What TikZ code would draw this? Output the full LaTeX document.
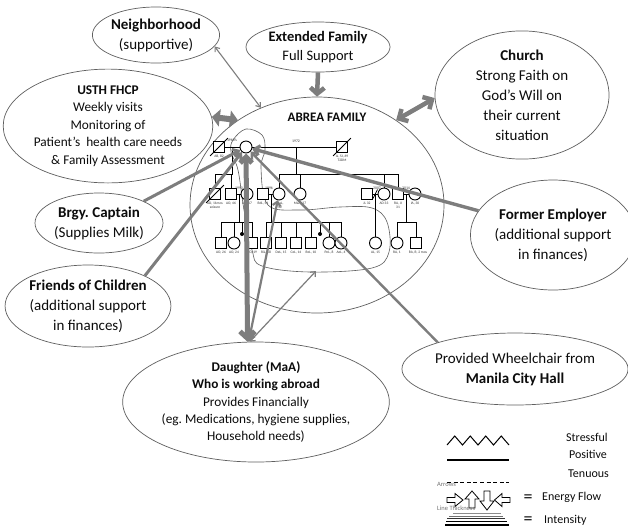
\documentclass[tikz,border=0pt]{standalone}
\usepackage{fontspec}
\setmainfont{Carlito}
\usetikzlibrary{shapes.geometric,arrows.meta}
\definecolor{conn}{RGB}{125,125,125}
\definecolor{edge}{RGB}{95,95,95}
\definecolor{txt}{RGB}{12,12,12}
\frenchspacing
\begin{document}
\begin{tikzpicture}[x=1pt,y=-1pt,
  bub/.style={ellipse,draw=edge,line width=0.7pt,inner sep=0pt,align=center,text=txt},
  fA/.style={font=\fontsize{15}{20}\selectfont},
  fB/.style={font=\fontsize{13.3}{17.4}\selectfont},
  fC/.style={font=\fontsize{14.5}{19}\selectfont},
  gsq/.style={rectangle,draw=black,line width=0.9pt,minimum size=11pt,inner sep=0pt,fill=white},
  gci/.style={circle,draw=black,line width=0.9pt,minimum size=12pt,inner sep=0pt,fill=white},
  gdot/.style={circle,fill=black,minimum size=4pt,inner sep=0pt},
  gl/.style={line width=0.8pt,draw=black},
  glab/.style={font=\fontsize{3.6}{4.2}\selectfont,align=center,inner sep=0pt,text=black!80},
  gyr/.style={font=\fontsize{3.8}{4.2}\selectfont,inner sep=0pt,text=black!80},
  cn/.style={draw=conn,line cap=butt},
  lgt/.style={font=\fontsize{12}{13}\selectfont,inner sep=0pt,anchor=west,text=txt},
  lgs/.style={font=\fontsize{6.5}{7}\selectfont,inner sep=0pt,anchor=west,text=black!55},
  barr/.style={draw=black,line width=0.8pt,fill=white,line join=miter}
]
\useasboundingbox (0,0) rectangle (628,531);
\fill[white] (0,0) rectangle (628,531);

% ---------- bubbles ----------
\node[bub,fA,minimum width=124pt,minimum height=56pt] (neigh) at (156,35) {\textbf{Neighborhood}\\(supportive)};
\node[bub,fC,minimum width=144pt,minimum height=50pt] (ext) at (318,47) {\textbf{Extended Family}\\Full Support};
\node[bub,fB,minimum width=166pt,minimum height=108pt] (usth) at (108,126) {\textbf{USTH FHCP}\\Weekly visits\\Monitoring of\\Patient’s\ \ health care needs\\\& Family Assessment};
\node[bub,fA,minimum width=174pt,minimum height=117pt] (church) at (522,95) {\textbf{Church}\\Strong Faith on\\God’s Will on\\their current\\situation};
\node[bub,fA,minimum width=128pt,minimum height=60pt] (brgy) at (99,223) {\textbf{Brgy. Captain}\\(Supplies Milk)};
\node[bub,fA,minimum width=154pt,minimum height=82pt] (friends) at (88,306) {\textbf{Friends of Children}\\(additional support\\in finances)};
\node[bub,fA,minimum width=140pt,minimum height=110pt] (employer) at (553,235) {\textbf{Former Employer}\\(additional support\\in finances)};
\node[bub,fB,minimum width=224pt,minimum height=120pt] (daughter) at (256,402) {\textbf{Daughter (MaA)}\\\textbf{Who is working abroad}\\Provides Financially\\(eg. Medications, hygiene supplies,\\Household needs)};
\node[bub,fA,minimum width=214pt,minimum height=72pt] (wheel) at (515,369) {Provided Wheelchair from\\\textbf{Manila City Hall}};
\node[ellipse,draw=edge,line width=0.7pt,minimum width=254pt,minimum height=216pt,inner sep=0pt] (family) at (317,205) {};
\node[font=\fontsize{13}{15}\selectfont\bfseries,text=txt,inner sep=0pt] (title) at (327,117) {ABREA FAMILY};

% ---------- household boundary ----------
\draw[draw=edge,line width=0.6pt] plot[smooth cycle,tension=0.6] coordinates {
 (233,140) (246,129) (262,135) (265,150) (261,168) (268,205) (300,210) (340,207)
 (372,208) (387,222) (389,252) (372,268) (310,272) (262,266) (252,250) (244,210)
 (238,170) (231,152)};
\coordinate (hh) at (316,271);

% ---------- genogram lines ----------
\draw[gl] (219,147) -- (246,147);
\draw[gl] (246,147) -- (342,147);
\draw[gl] (232.5,147) -- (232.5,174);
\draw[gl] (215,174) -- (232.5,174);
\draw[gl] (215,174) -- (215,194);
\draw[gl] (231,174) -- (231,194);
\draw[gl] (296,147) -- (296,174);
\draw[gl] (279,174) -- (398,174);
\foreach \x in {279,300,384,398} \draw[gl] (\x,174) -- (\x,194);
% gen 2 marriages
\draw[gl] (231,194) -- (247,194);
\draw[gl] (263,194) -- (279,194);
\draw[gl] (367,194) -- (384,194);
\draw[gl] (398,194) -- (415,194);
\draw[gl] (373,198.5) -- (377.5,189.5);
% gen 3 lines
\draw[gl] (239,194) -- (239,222);
\draw[gl] (221,222) -- (252,222);
\foreach \x in {221,234,252} \draw[gl] (\x,222) -- (\x,243);
\draw[gl] (242,222) -- (242,234);
\draw[gl] (271,194) -- (271,222);
\draw[gl] (266,222) -- (341,222);
\foreach \x in {266,281,296,311,329,341} \draw[gl] (\x,222) -- (\x,243);
\draw[gl] (320,222) -- (320,234);
\draw[gl] (375.5,194) -- (375.5,243);
\draw[gl] (406,194) -- (406,222);
\draw[gl] (397,222) -- (416,222);
\foreach \x in {397,416} \draw[gl] (\x,222) -- (\x,243);

% ---------- genogram symbols ----------
\node[gsq] (g1f) at (219,147) {};
\node[gci] (mother) at (246,147) {};
\node[gsq] (g1h) at (342,147) {};
\node[gsq] (g2a) at (215,194) {};
\node[gsq] (g2b) at (231,194) {};
\node[gci] (g2c) at (247,194) {};
\node[gsq] (g2d) at (263,194) {};
\node[gci] (g2e) at (279,194) {};
\node[gci] (g2f) at (300,194) {};
\node[gsq] (g2g) at (367,194) {};
\node[gci] (g2h) at (384,194) {};
\node[gsq] (g2i) at (398,194) {};
\node[gci] (g2j) at (415,194) {};
\node[gsq] (g3a) at (221,243) {};
\node[gci] (g3b) at (234,243) {};
\node[gdot] (d1) at (242,234) {};
\node[gsq] (g3c) at (252,243) {};
\node[gsq] (g3d) at (266,243) {};
\node[gsq] (g3e) at (281,243) {};
\node[gsq] (g3f) at (296,243) {};
\node[gsq] (g3g) at (311,243) {};
\node[gdot] (d2) at (320,234) {};
\node[gci] (g3h) at (329,243) {};
\node[gci] (g3i) at (341,243) {};
\node[gci] (g3j) at (375.5,243) {};
\node[gci] (g3k) at (397,243) {};
\node[gsq] (g3l) at (416,243) {};
\foreach \n in {g1f,g1h,g2a}
  \draw[gl] ([shift={(-3,3)}]\n.south west) -- ([shift={(3,-3)}]\n.north east);

% ---------- genogram labels ----------
\node[gyr] (y1) at (232,140) {1960's};
\node[gyr] (y2) at (296,141) {1972};
\node[gyr] (y3) at (239,188) {1993};
\node[gyr] (y4) at (269,188) {1996};
\node[gyr] (y5) at (377,188) {2007};
\node[gyr] (y6) at (406,188) {2014};
\node[glab,anchor=north] (l0) at (219,155) {AB, 82};
\node[glab,anchor=north] (l1) at (342,155) {JL, SI, 69\\T2DM};
\node[glab,anchor=north] (l2) at (215,202) {AD, 11mos\\seizure};
\node[glab,anchor=north] (l3) at (231,202) {AO, 46};
\node[glab,anchor=north] (l4) at (247,202) {AO, 47};
\node[glab,anchor=north] (l5) at (263,202) {RdL, 51};
\node[glab,anchor=north] (l6) at (280,202) {MaL,\\42};
\node[glab,anchor=north] (l7) at (300,202) {MaA, 37};
\node[glab,anchor=north] (l8) at (367,202) {JL 32};
\node[glab,anchor=north] (l9) at (384,202) {AD 33};
\node[glab,anchor=north] (l10) at (398,202) {RA, JI\\31};
\node[glab,anchor=north] (l11) at (415,202) {IA, 30};
\node[glab,anchor=north] (m1) at (221,251) {AO, 26};
\node[glab,anchor=north] (m2) at (234,251) {AO, 24};
\node[glab,anchor=north] (m3) at (252,251) {DO, 19};
\node[glab,anchor=north] (m4) at (266,251) {RiL, 18};
\node[glab,anchor=north] (m5) at (281,251) {DeL, 15};
\node[glab,anchor=north] (m6) at (296,251) {CeL, 14};
\node[glab,anchor=north] (m7) at (311,251) {ReL, 10};
\node[glab,anchor=north] (m8) at (329,251) {PeL, 8};
\node[glab,anchor=north] (m9) at (341,251) {AeL, 4};
\node[glab,anchor=north] (m10) at (375.5,251) {AL, 15};
\node[glab,anchor=north] (m11) at (397,251) {RA, 1};
\node[glab,anchor=north] (m12) at (418,251) {RA, R, 2 mos};

% ---------- connectors ----------
\draw[cn,line width=1.1pt,{Straight Barb[length=4pt,width=6pt]}-{Straight Barb[length=4pt,width=6pt]}] (neigh.-11) -- (family.120);
\draw[cn,line width=4.5pt,-{Straight Barb[length=6pt,width=14pt]}] (ext.south) -- (family.north);
\draw[cn,line width=6pt,{Triangle[length=8pt,width=17pt]}-{Triangle[length=8pt,width=17pt]}] (usth.5) -- (family.133);
\draw[cn,line width=4.5pt,{Straight Barb[length=7pt,width=14pt]}-{Straight Barb[length=7pt,width=14pt]}] (church.182) -- (family.47);
\draw[cn,line width=3pt,-{Straight Barb[length=5pt,width=9pt]}] (brgy.26) -- (mother);
\draw[cn,line width=3pt,-{Straight Barb[length=5pt,width=9pt]}] (friends.28) -- (mother);
\draw[cn,line width=3.4pt,-{Straight Barb[length=5pt,width=10pt]}] (employer.162) -- (mother);
\draw[cn,line width=2.4pt,-{Straight Barb[length=5pt,width=9pt]}] (wheel.161) -- (mother);
\draw[cn,line width=5pt,{Straight Barb[length=6pt,width=12pt]}-{Straight Barb[length=7pt,width=15pt]}] (mother) -- (daughter.98);
\draw[cn,line width=2.2pt,{Straight Barb[length=4pt,width=8pt]}-{Straight Barb[length=5pt,width=10pt]}] (g2e) -- (daughter.97);
\draw[cn,line width=1.2pt,{Straight Barb[length=4pt,width=7pt]}-{Straight Barb[length=4pt,width=7pt]}] (daughter.96) -- (hh);

% ---------- legend ----------
\draw[line width=1pt,line join=miter] (447,445) -- (454.75,436) -- (462.5,445) -- (470.25,436) -- (478,445) -- (485.75,436) -- (493.5,445) -- (501.25,436) -- (509,445);
\draw[line width=1.5pt] (447,460) -- (509,460);
\draw[line width=1pt,dash pattern=on 4pt off 2.6pt] (447,482) -- (509,482);
\node[lgt] (lgS) at (566,437) {Stressful};
\node[lgt] (lgP) at (569,454) {Positive};
\node[lgt] (lgT) at (568,474) {Tenuous};
\node[lgs] (lgA) at (437,484) {Arrows};
\draw[barr] (447,497.5) -- (455,497.5) -- (455,493.5) -- (463,500) -- (455,506.5) -- (455,502.5) -- (447,502.5) -- cycle;
\draw[barr] (469,508) -- (469,499) -- (465,499) -- (472,491) -- (479,499) -- (475,499) -- (475,508) -- cycle;
\draw[barr] (484,491) -- (484,501) -- (480,501) -- (487,510) -- (494,501) -- (490,501) -- (490,491) -- cycle;
\draw[barr] (510,497.5) -- (502,497.5) -- (502,493.5) -- (494.5,500) -- (502,506.5) -- (502,502.5) -- (510,502.5) -- cycle;
\node[font=\fontsize{18}{18}\selectfont,inner sep=0pt,text=txt] (eq1) at (528,499) {=};
\node[lgt] (lgE) at (542,497) {Energy Flow};
\node[lgs] (lgL) at (437,508.5) {Line Thickness};
\draw[draw=black!45,line width=0.6pt] (453,513.5) -- (501,513.5);
\draw[draw=black!55,line width=0.8pt] (449,516) -- (503,516);
\draw[draw=black!80,line width=1pt] (447,518.7) -- (505,518.7);
\draw[draw=black,line width=1.4pt] (446,521.5) -- (507,521.5);
\draw[draw=black,line width=2.2pt] (445,525) -- (509,525);
\node[font=\fontsize{18}{18}\selectfont,inner sep=0pt,text=txt] (eq2) at (528,521) {=};
\node[lgt] (lgI) at (544,520) {Intensity};
\end{tikzpicture}
\end{document}
